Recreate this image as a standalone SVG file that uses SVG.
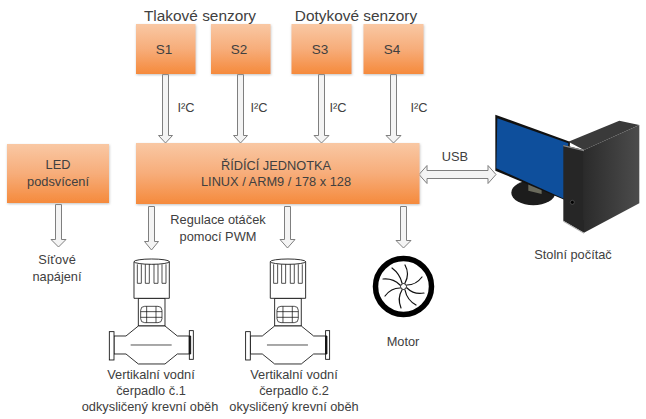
<svg xmlns="http://www.w3.org/2000/svg" width="646" height="419" viewBox="0 0 646 419">
<style>
text{font-family:"Liberation Sans",Arial,sans-serif;font-size:12.800px;fill:#404040;text-anchor:middle}
.h{font-size:15.400px}
.s{font-size:13.500px}
.box{fill:url(#og);filter:url(#sh)}
.arr{fill:#f4f4f4;stroke:#7f7f7f;stroke-width:1}
.p{fill:#fff;stroke:#111;stroke-width:2.600}
.pl{fill:none;stroke:#111;stroke-width:2.200}
.bl{fill:none;stroke:#111;stroke-width:1.200;stroke-linecap:round}
</style>
<defs>
<linearGradient id="og" x1="0" y1="0" x2="0" y2="1"><stop offset="0" stop-color="#f9c8a4"/><stop offset=".5" stop-color="#f7ad7a"/><stop offset="1" stop-color="#f58a3c"/></linearGradient>
<linearGradient id="tw" x1="0" y1="0" x2="1" y2="0"><stop offset="0" stop-color="#2b2b2b"/><stop offset="1" stop-color="#4c4c4c"/></linearGradient>
<filter id="sh" x="-5%" y="-5%" width="110%" height="112%"><feDropShadow dx="0.500" dy="1" stdDeviation="1" flood-color="#999" flood-opacity=".6"/></filter>
<g id="pump">
<path class="p" d="M145,295H225V378H145Z"/>
<path class="p" d="M72,408H108L145,378H225L262,408H298V462H262L225,492H145L108,462H72Z"/>
<rect class="p" x="58" y="395" width="14" height="85"/>
<rect class="p" x="298" y="392" width="12" height="86"/>
<path class="p" d="M298,408h4v54h-4z" style="fill:#111"/>
<path class="pl" d="M122,435H245"/>
<path class="p" d="M132,185V295H238V185Z"/>
<ellipse class="p" cx="185" cy="185" rx="53" ry="8"/>
<path class="pl" d="M142,193V250H154V193M166,193V250H178V193M192,193V250H204V193M216,193V250H228V193"/>
<rect class="pl" x="152" y="319" width="64" height="49" rx="12"/>
<path class="pl" d="M152,335H216M152,352H216M170,319V368M198,319V368"/>
</g>
</defs>
<g id="connectors">
<path class="arr" d="M162.500,74.500H168.500V135.500H172.500L165.500,143L158.500,135.500H162.500Z"/>
<path class="arr" d="M237.500,74.500H243.500V135.500H247.500L240.500,143L233.500,135.500H237.500Z"/>
<path class="arr" d="M318.500,74.500H324.500V135.500H329L321.500,143L314,135.500H318.500Z"/>
<path class="arr" d="M390.500,74.500H396.500V135.500H401L393.500,143L386,135.500H390.500Z"/>
<path class="arr" d="M148.500,206.500H154.500V241.500H158.500L151.500,250L144.500,241.500H148.500Z"/>
<path class="arr" d="M284.500,206.500H290.500V239.500H295L287.500,248L280,239.500H284.500Z"/>
<path class="arr" d="M400.500,206.500H406.500V240.500H411L403.500,248L396,240.500H400.500Z"/>
<path class="arr" d="M55.500,204.500H61.500V239.500H66L58.500,247L51,239.500H55.500Z"/>
<path class="arr" d="M419,174.500L427,165.500V170.500H488V165.500L496,174.500L488,183.500V178.500H427V183.500Z"/>
</g>
<text class="h" x="200" y="21">Tlakové senzory</text>
<text class="h" x="356" y="21">Dotykové senzory</text>
<g id="s1"><rect class="box" x="136" y="24" width="59.500" height="50"/><text class="s" x="164" y="53.500">S1</text></g>
<g id="s2"><rect class="box" x="211" y="24" width="59.500" height="50"/><text class="s" x="239" y="53.500">S2</text></g>
<g id="s3"><rect class="box" x="291.500" y="24" width="60" height="50"/><text class="s" x="320" y="53.500">S3</text></g>
<g id="s4"><rect class="box" x="363.500" y="24" width="60" height="50"/><text class="s" x="392" y="53.500">S4</text></g>
<g id="ridici"><rect class="box" x="136" y="143" width="283.500" height="61"/><text x="276" y="170">ŘÍDÍCÍ JEDNOTKA</text><text x="276" y="186">LINUX / ARM9 / 178 x 128</text></g>
<g id="led"><rect class="box" x="7" y="144" width="102" height="59"/><text x="58" y="169">LED</text><text x="58" y="186">podsvícení</text></g>
<text x="186" y="112">I²C</text>
<text x="259" y="112">I²C</text>
<text x="338" y="112">I²C</text>
<text x="419" y="112">I²C</text>
<text x="455" y="161">USB</text>
<text x="218" y="224">Regulace otáček</text>
<text x="218" y="241">pomocí PWM</text>
<text x="57" y="264">Síťové</text>
<text x="57" y="281">napájení</text>
<g id="cerpadlo1" transform="translate(90,200) scale(.3333)"><use href="#pump"/></g>
<g id="cerpadlo2" transform="translate(226.300,200) scale(.3333)"><use href="#pump"/></g>
<text x="151" y="379">Vertikalní vodní</text>
<text x="151" y="395">čerpadlo č.1</text>
<text x="150" y="411">odkysličený krevní oběh</text>
<text x="294" y="379">Vertikalní vodní</text>
<text x="294" y="395">čerpadlo č.2</text>
<text x="294" y="411">okysličený krevní oběh</text>
<g id="motor">
<circle cx="403.500" cy="286.500" r="28" fill="#fff" stroke="#000" stroke-width="5.500"/>
<circle cx="403.500" cy="286.500" r="3" fill="#fff" stroke="#111" stroke-width="1"/>
<path class="bl" d="M405,283Q410,274 405,265"/>
<path class="bl" d="M407,285Q416,285 422,277"/>
<path class="bl" d="M407,288Q414,295 424,293"/>
<path class="bl" d="M405,290Q407,300 416,305"/>
<path class="bl" d="M402,290Q397,298 401,308"/>
<path class="bl" d="M400,288Q391,288 385,296"/>
<path class="bl" d="M400,285Q393,278 383,279"/>
<path class="bl" d="M402,283Q400,274 392,268"/>
<text x="403" y="346">Motor</text>
</g>
<g id="pc" transform="translate(410,100) scale(.3333)">
<ellipse cx="370" cy="278" rx="66" ry="38" fill="#1c1c1c"/>
<path d="M355,250L395,262V282L355,272Z" fill="#6a6a5c"/>
<path d="M256,44L480,125L470,302L256,212Z" fill="#111"/>
<path d="M262,55L475,130L462,296L259,205Z" fill="#0e4f9c"/>
<path d="M475,125L628,62L688,75L522,150Z" fill="#3a3a3a"/>
<path d="M522,150L688,75V310L522,398Z" fill="url(#tw)"/>
<path d="M460,135L522,150V398L460,362Z" fill="#262626"/>
<path d="M460,135L522,150V154L460,139Z" fill="#8a8a8a"/>
<path d="M460,362L522,398V401L460,365Z" fill="#aaa"/>
<circle cx="487" cy="307" r="6" fill="#000" stroke="#777" stroke-width="1.500"/>
</g>
<text x="573" y="259">Stolní počítač</text>
</svg>
